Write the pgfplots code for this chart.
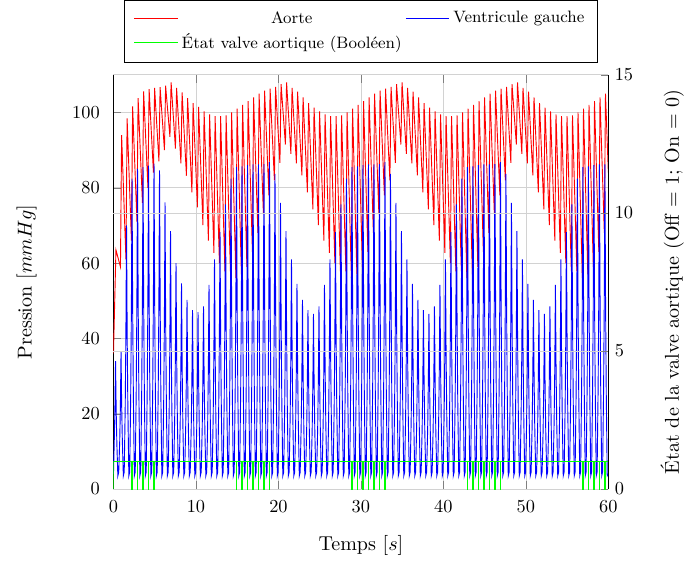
\documentclass[border=0pt]{standalone}
\usepackage{fontspec}
\usepackage{pgfplots}
\pgfplotsset{compat=1.18}
\begin{document}
\begin{tikzpicture}
\begin{axis}[
 width=270pt,height=226pt,scale only axis,
 xmin=0,xmax=60,ymin=0,ymax=110,
 xtick={0,10,...,60}, ytick={0,20,...,100},
 grid=major, major grid style={gray!35},
 axis y line*=left,
 xticklabel style={yshift=-3pt}, yticklabel style={xshift=-4pt},
 label style={scale=1.095},
 xlabel={Temps [$s$]}, ylabel={Pression [$mmHg$]},
 ylabel style={inner ysep=8.3pt},
 ylabel shift=6.7pt, xlabel shift=5pt,
]
\addplot[red, line width=0.5pt] coordinates {
(0,36)(0.3,63.5)(0.847,59)(0.987,94)
(1.513,61)(1.653,98.4)
(2.180,66)(2.320,101.6)
(2.847,71)(2.987,103.8)
(3.513,76)(3.653,105.6)
(4.180,80)(4.320,106.2)
(4.847,84)(4.987,106.5)
(5.513,87)(5.653,106.7)
(6.180,90)(6.320,107.1)
(6.847,93.5)(6.987,108)
(7.513,90.4)(7.653,106.5)
(8.180,86.5)(8.320,105.3)
(8.847,83.2)(8.987,103.8)
(9.513,78.8)(9.653,102.5)
(10.180,74.8)(10.320,101.5)
(10.847,70.1)(10.987,100.3)
(11.513,66)(11.653,99.5)
(12.180,62.7)(12.320,99)
(12.847,60)(12.987,99)
(13.513,57.8)(13.653,99.2)
(14.180,57.8)(14.320,100)
(14.847,56)(14.987,101)
(15.513,57)(15.653,102)
(16.180,59)(16.320,103)
(16.847,63)(16.987,104)
(17.513,68)(17.653,105)
(18.180,73)(18.320,105.8)
(18.847,78)(18.987,106.3)
(19.513,82)(19.653,106.8)
(20.180,86.6)(20.320,107.5)
(20.847,91.5)(20.987,108)
(21.513,89)(21.653,106.5)
(22.180,86.5)(22.320,105.5)
(22.847,83.3)(22.987,104)
(23.513,78.8)(23.653,102.5)
(24.180,74.3)(24.320,101.3)
(24.847,70.1)(24.987,100.3)
(25.513,66)(25.653,99.5)
(26.180,62.7)(26.320,99)
(26.847,60)(26.987,99)
(27.513,57.8)(27.653,99.2)
(28.180,57.8)(28.320,100)
(28.847,56)(28.987,101)
(29.513,57)(29.653,102)
(30.180,59)(30.320,103)
(30.847,63)(30.987,104)
(31.513,68)(31.653,105)
(32.180,73)(32.320,105.8)
(32.847,78)(32.987,106.3)
(33.513,82)(33.653,106.8)
(34.180,86.6)(34.320,107.5)
(34.847,91.5)(34.987,108)
(35.513,89)(35.653,106.5)
(36.180,86.5)(36.320,105.5)
(36.847,83.3)(36.987,104)
(37.513,78.8)(37.653,102.5)
(38.180,74.3)(38.320,101.3)
(38.847,70.1)(38.987,100.3)
(39.513,66)(39.653,99.5)
(40.180,62.7)(40.320,99)
(40.847,60)(40.987,99)
(41.513,57.8)(41.653,99.2)
(42.180,57.8)(42.320,100)
(42.847,56)(42.987,101)
(43.513,57)(43.653,102)
(44.180,59)(44.320,103)
(44.847,63)(44.987,104)
(45.513,68)(45.653,105)
(46.180,73)(46.320,105.8)
(46.847,78)(46.987,106.3)
(47.513,82)(47.653,106.8)
(48.180,86.6)(48.320,107.5)
(48.847,91.5)(48.987,108)
(49.513,89)(49.653,106.5)
(50.180,86.5)(50.320,105.5)
(50.847,83.3)(50.987,104)
(51.513,78.8)(51.653,102.5)
(52.180,74.3)(52.320,101.3)
(52.847,70.1)(52.987,100.3)
(53.513,66)(53.653,99.5)
(54.180,62.7)(54.320,99)
(54.847,60)(54.987,99)
(55.513,57.8)(55.653,99.2)
(56.180,57.8)(56.320,100)
(56.847,56)(56.987,101)
(57.513,57)(57.653,102)
(58.180,59)(58.320,103)
(58.847,63)(58.987,104)
(59.513,68)(59.653,105)
(60,84)
};
\addplot[blue, line width=0.5pt] coordinates {
(0,4)(0.090,12.1)(0.170,20.5)(0.250,34)(0.330,20.5)(0.410,12.1)(0.530,3.5)
(0.637,4.5)(0.757,12.7)(0.837,21.8)(0.917,36.4)(0.997,21.8)(1.077,12.7)(1.197,3.5)
(1.303,4.5)(1.423,21.8)(1.503,40.3)(1.583,70)(1.663,40.3)(1.743,21.8)(1.863,3.5)
(1.970,4.5)(2.090,25.2)(2.170,47.1)(2.250,82.4)(2.330,47.1)(2.410,25.2)(2.530,3.5)
(2.637,4.5)(2.757,25.9)(2.837,48.6)(2.917,85)(2.997,48.6)(3.077,25.9)(3.197,3.5)
(3.303,4.5)(3.423,26.0)(3.503,48.8)(3.583,85.5)(3.663,48.8)(3.743,26.0)(3.863,3.5)
(3.970,4.5)(4.090,26.1)(4.170,49.0)(4.250,85.9)(4.330,49.0)(4.410,26.1)(4.530,3.5)
(4.637,4.5)(4.757,26.2)(4.837,49.3)(4.917,86.4)(4.997,49.3)(5.077,26.2)(5.197,3.5)
(5.303,4.5)(5.423,25.8)(5.503,48.3)(5.583,84.6)(5.663,48.3)(5.743,25.8)(5.863,3.5)
(5.970,4.5)(6.090,23.5)(6.170,43.7)(6.250,76.1)(6.330,43.7)(6.410,23.5)(6.530,3.5)
(6.637,4.5)(6.757,21.4)(6.837,39.5)(6.917,68.5)(6.997,39.5)(7.077,21.4)(7.197,3.5)
(7.303,4.5)(7.423,19.1)(7.503,34.8)(7.583,60)(7.663,34.8)(7.743,19.1)(7.863,3.5)
(7.970,4.5)(8.090,17.7)(8.170,31.8)(8.250,54.6)(8.330,31.8)(8.410,17.7)(8.530,3.5)
(8.637,4.5)(8.757,16.5)(8.837,29.4)(8.917,50.2)(8.997,29.4)(9.077,16.5)(9.197,3.5)
(9.303,4.5)(9.423,15.7)(9.503,27.9)(9.583,47.5)(9.663,27.9)(9.743,15.7)(9.863,3.5)
(9.970,4.5)(10.090,15.6)(10.170,27.7)(10.250,47)(10.330,27.7)(10.410,15.6)(10.530,3.5)
(10.637,4.5)(10.757,16.0)(10.837,28.5)(10.917,48.5)(10.997,28.5)(11.077,16.0)(11.197,3.5)
(11.303,4.5)(11.423,17.6)(11.503,31.6)(11.583,54.2)(11.663,31.6)(11.743,17.6)(11.863,3.5)
(11.970,4.5)(12.090,19.4)(12.170,35.4)(12.250,61)(12.330,35.4)(12.410,19.4)(12.530,3.5)
(12.637,4.5)(12.757,21.3)(12.837,39.3)(12.917,68.2)(12.997,39.3)(13.077,21.3)(13.197,3.5)
(13.303,4.5)(13.423,23.3)(13.503,43.4)(13.583,75.6)(13.663,43.4)(13.743,23.3)(13.863,3.5)
(13.970,4.5)(14.090,25.2)(14.170,47.1)(14.250,82.4)(14.330,47.1)(14.410,25.2)(14.530,3.5)
(14.637,4.5)(14.757,26.0)(14.837,48.8)(14.917,85.5)(14.997,48.8)(15.077,26.0)(15.197,3.5)
(15.303,4.5)(15.423,26.1)(15.503,48.9)(15.583,85.7)(15.663,48.9)(15.743,26.1)(15.863,3.5)
(15.970,4.5)(16.090,26.1)(16.170,49.1)(16.250,86)(16.330,49.1)(16.410,26.1)(16.530,3.5)
(16.637,4.5)(16.757,26.2)(16.837,49.2)(16.917,86.2)(16.997,49.2)(17.077,26.2)(17.197,3.5)
(17.303,4.5)(17.423,26.2)(17.503,49.2)(17.583,86.2)(17.663,49.2)(17.743,26.2)(17.863,3.5)
(17.970,4.5)(18.090,26.2)(18.170,49.3)(18.250,86.3)(18.330,49.3)(18.410,26.2)(18.530,3.5)
(18.637,4.5)(18.757,26.4)(18.837,49.5)(18.917,86.8)(18.997,49.5)(19.077,26.4)(19.197,3.5)
(19.303,4.5)(19.423,25.5)(19.503,47.8)(19.583,83.7)(19.663,47.8)(19.743,25.5)(19.863,3.5)
(19.970,4.5)(20.090,23.4)(20.170,43.6)(20.250,76)(20.330,43.6)(20.410,23.4)(20.530,3.5)
(20.637,4.5)(20.757,21.4)(20.837,39.5)(20.917,68.5)(20.997,39.5)(21.077,21.4)(21.197,3.5)
(21.303,4.5)(21.423,19.4)(21.503,35.4)(21.583,61)(21.663,35.4)(21.743,19.4)(21.863,3.5)
(21.970,4.5)(22.090,17.6)(22.170,31.8)(22.250,54.5)(22.330,31.8)(22.410,17.6)(22.530,3.5)
(22.637,4.5)(22.757,16.5)(22.837,29.4)(22.917,50.2)(22.997,29.4)(23.077,16.5)(23.197,3.5)
(23.303,4.5)(23.423,15.7)(23.503,27.9)(23.583,47.5)(23.663,27.9)(23.743,15.7)(23.863,3.5)
(23.970,4.5)(24.090,15.5)(24.170,27.4)(24.250,46.5)(24.330,27.4)(24.410,15.5)(24.530,3.5)
(24.637,4.5)(24.757,16.0)(24.837,28.5)(24.917,48.5)(24.997,28.5)(25.077,16.0)(25.197,3.5)
(25.303,4.5)(25.423,17.6)(25.503,31.6)(25.583,54.2)(25.663,31.6)(25.743,17.6)(25.863,3.5)
(25.970,4.5)(26.090,19.4)(26.170,35.4)(26.250,61)(26.330,35.4)(26.410,19.4)(26.530,3.5)
(26.637,4.5)(26.757,21.3)(26.837,39.3)(26.917,68.2)(26.997,39.3)(27.077,21.3)(27.197,3.5)
(27.303,4.5)(27.423,23.3)(27.503,43.4)(27.583,75.6)(27.663,43.4)(27.743,23.3)(27.863,3.5)
(27.970,4.5)(28.090,25.2)(28.170,47.1)(28.250,82.4)(28.330,47.1)(28.410,25.2)(28.530,3.5)
(28.637,4.5)(28.757,26.0)(28.837,48.8)(28.917,85.5)(28.997,48.8)(29.077,26.0)(29.197,3.5)
(29.303,4.5)(29.423,26.1)(29.503,48.9)(29.583,85.7)(29.663,48.9)(29.743,26.1)(29.863,3.5)
(29.970,4.5)(30.090,26.1)(30.170,49.1)(30.250,86)(30.330,49.1)(30.410,26.1)(30.530,3.5)
(30.637,4.5)(30.757,26.2)(30.837,49.2)(30.917,86.2)(30.997,49.2)(31.077,26.2)(31.197,3.5)
(31.303,4.5)(31.423,26.2)(31.503,49.2)(31.583,86.2)(31.663,49.2)(31.743,26.2)(31.863,3.5)
(31.970,4.5)(32.090,26.2)(32.170,49.3)(32.250,86.3)(32.330,49.3)(32.410,26.2)(32.530,3.5)
(32.637,4.5)(32.757,26.4)(32.837,49.5)(32.917,86.8)(32.997,49.5)(33.077,26.4)(33.197,3.5)
(33.303,4.5)(33.423,25.5)(33.503,47.8)(33.583,83.7)(33.663,47.8)(33.743,25.5)(33.863,3.5)
(33.970,4.5)(34.090,23.4)(34.170,43.6)(34.250,76)(34.330,43.6)(34.410,23.4)(34.530,3.5)
(34.637,4.5)(34.757,21.4)(34.837,39.5)(34.917,68.5)(34.997,39.5)(35.077,21.4)(35.197,3.5)
(35.303,4.5)(35.423,19.4)(35.503,35.4)(35.583,61)(35.663,35.4)(35.743,19.4)(35.863,3.5)
(35.970,4.5)(36.090,17.6)(36.170,31.8)(36.250,54.5)(36.330,31.8)(36.410,17.6)(36.530,3.5)
(36.637,4.5)(36.757,16.5)(36.837,29.4)(36.917,50.2)(36.997,29.4)(37.077,16.5)(37.197,3.5)
(37.303,4.5)(37.423,15.7)(37.503,27.9)(37.583,47.5)(37.663,27.9)(37.743,15.7)(37.863,3.5)
(37.970,4.5)(38.090,15.5)(38.170,27.4)(38.250,46.5)(38.330,27.4)(38.410,15.5)(38.530,3.5)
(38.637,4.5)(38.757,16.0)(38.837,28.5)(38.917,48.5)(38.997,28.5)(39.077,16.0)(39.197,3.5)
(39.303,4.5)(39.423,17.6)(39.503,31.6)(39.583,54.2)(39.663,31.6)(39.743,17.6)(39.863,3.5)
(39.970,4.5)(40.090,19.4)(40.170,35.4)(40.250,61)(40.330,35.4)(40.410,19.4)(40.530,3.5)
(40.637,4.5)(40.757,21.3)(40.837,39.3)(40.917,68.2)(40.997,39.3)(41.077,21.3)(41.197,3.5)
(41.303,4.5)(41.423,23.3)(41.503,43.4)(41.583,75.6)(41.663,43.4)(41.743,23.3)(41.863,3.5)
(41.970,4.5)(42.090,25.2)(42.170,47.1)(42.250,82.4)(42.330,47.1)(42.410,25.2)(42.530,3.5)
(42.637,4.5)(42.757,26.0)(42.837,48.8)(42.917,85.5)(42.997,48.8)(43.077,26.0)(43.197,3.5)
(43.303,4.5)(43.423,26.1)(43.503,48.9)(43.583,85.7)(43.663,48.9)(43.743,26.1)(43.863,3.5)
(43.970,4.5)(44.090,26.1)(44.170,49.1)(44.250,86)(44.330,49.1)(44.410,26.1)(44.530,3.5)
(44.637,4.5)(44.757,26.2)(44.837,49.2)(44.917,86.2)(44.997,49.2)(45.077,26.2)(45.197,3.5)
(45.303,4.5)(45.423,26.2)(45.503,49.2)(45.583,86.2)(45.663,49.2)(45.743,26.2)(45.863,3.5)
(45.970,4.5)(46.090,26.2)(46.170,49.3)(46.250,86.3)(46.330,49.3)(46.410,26.2)(46.530,3.5)
(46.637,4.5)(46.757,26.4)(46.837,49.5)(46.917,86.8)(46.997,49.5)(47.077,26.4)(47.197,3.5)
(47.303,4.5)(47.423,25.5)(47.503,47.8)(47.583,83.7)(47.663,47.8)(47.743,25.5)(47.863,3.5)
(47.970,4.5)(48.090,23.4)(48.170,43.6)(48.250,76)(48.330,43.6)(48.410,23.4)(48.530,3.5)
(48.637,4.5)(48.757,21.4)(48.837,39.5)(48.917,68.5)(48.997,39.5)(49.077,21.4)(49.197,3.5)
(49.303,4.5)(49.423,19.4)(49.503,35.4)(49.583,61)(49.663,35.4)(49.743,19.4)(49.863,3.5)
(49.970,4.5)(50.090,17.6)(50.170,31.8)(50.250,54.5)(50.330,31.8)(50.410,17.6)(50.530,3.5)
(50.637,4.5)(50.757,16.5)(50.837,29.4)(50.917,50.2)(50.997,29.4)(51.077,16.5)(51.197,3.5)
(51.303,4.5)(51.423,15.7)(51.503,27.9)(51.583,47.5)(51.663,27.9)(51.743,15.7)(51.863,3.5)
(51.970,4.5)(52.090,15.5)(52.170,27.4)(52.250,46.5)(52.330,27.4)(52.410,15.5)(52.530,3.5)
(52.637,4.5)(52.757,16.0)(52.837,28.5)(52.917,48.5)(52.997,28.5)(53.077,16.0)(53.197,3.5)
(53.303,4.5)(53.423,17.6)(53.503,31.6)(53.583,54.2)(53.663,31.6)(53.743,17.6)(53.863,3.5)
(53.970,4.5)(54.090,19.4)(54.170,35.4)(54.250,61)(54.330,35.4)(54.410,19.4)(54.530,3.5)
(54.637,4.5)(54.757,21.3)(54.837,39.3)(54.917,68.2)(54.997,39.3)(55.077,21.3)(55.197,3.5)
(55.303,4.5)(55.423,23.3)(55.503,43.4)(55.583,75.6)(55.663,43.4)(55.743,23.3)(55.863,3.5)
(55.970,4.5)(56.090,25.2)(56.170,47.1)(56.250,82.4)(56.330,47.1)(56.410,25.2)(56.530,3.5)
(56.637,4.5)(56.757,26.0)(56.837,48.8)(56.917,85.5)(56.997,48.8)(57.077,26.0)(57.197,3.5)
(57.303,4.5)(57.423,26.1)(57.503,48.9)(57.583,85.7)(57.663,48.9)(57.743,26.1)(57.863,3.5)
(57.970,4.5)(58.090,26.1)(58.170,49.1)(58.250,86)(58.330,49.1)(58.410,26.1)(58.530,3.5)
(58.637,4.5)(58.757,26.2)(58.837,49.2)(58.917,86.2)(58.997,49.2)(59.077,26.2)(59.197,3.5)
(59.303,4.5)(59.423,26.2)(59.503,49.2)(59.583,86.2)(59.663,49.2)(59.743,26.2)(59.863,3.5)
(60,4)
};
\end{axis}
\begin{axis}[
 width=270pt,height=226pt,scale only axis,
 xmin=0,xmax=60,ymin=0,ymax=15, ytick={0,5,10,15},
 axis y line*=right, axis x line=none,
 ymajorgrids, major grid style={gray!35},
 label style={scale=1.095},
 ylabel={État de la valve aortique (Off = 1; On = 0)},
 ylabel style={inner ysep=0pt},
 ylabel shift=11.5pt,
 legend columns=2, legend cell align=center,
 legend style={at={(0.5,1.03)},anchor=south, draw=black, fill=white,
   inner xsep=5pt, inner ysep=4pt, font=\small},
 legend image code/.code={\draw[#1] (0cm,0cm) -- (0.83cm,0cm);},
]
\addlegendimage{red, line width=0.5pt}
\addlegendentry{Aorte}
\addlegendimage{blue, line width=0.5pt}
\addlegendentry{Ventricule gauche}
\addlegendimage{green, line width=0.5pt}
\addlegendentry{État valve aortique (Booléen)}
\addplot[green, line width=0.5pt, forget plot] coordinates {
(0,0)(0,1)
(2.200,1)(2.200,0)(2.300,0)(2.300,1)
(2.867,1)(2.867,0)(2.967,0)(2.967,1)
(3.533,1)(3.533,0)(3.633,0)(3.633,1)
(4.200,1)(4.200,0)(4.300,0)(4.300,1)
(4.867,1)(4.867,0)(4.967,0)(4.967,1)
(14.867,1)(14.867,0)(14.967,0)(14.967,1)
(15.533,1)(15.533,0)(15.633,0)(15.633,1)
(16.200,1)(16.200,0)(16.300,0)(16.300,1)
(16.867,1)(16.867,0)(16.967,0)(16.967,1)
(17.533,1)(17.533,0)(17.633,0)(17.633,1)
(18.200,1)(18.200,0)(18.300,0)(18.300,1)
(18.867,1)(18.867,0)(18.967,0)(18.967,1)
(28.867,1)(28.867,0)(28.967,0)(28.967,1)
(29.533,1)(29.533,0)(29.633,0)(29.633,1)
(30.200,1)(30.200,0)(30.300,0)(30.300,1)
(30.867,1)(30.867,0)(30.967,0)(30.967,1)
(31.533,1)(31.533,0)(31.633,0)(31.633,1)
(32.200,1)(32.200,0)(32.300,0)(32.300,1)
(32.867,1)(32.867,0)(32.967,0)(32.967,1)
(42.867,1)(42.867,0)(42.967,0)(42.967,1)
(43.533,1)(43.533,0)(43.633,0)(43.633,1)
(44.200,1)(44.200,0)(44.300,0)(44.300,1)
(44.867,1)(44.867,0)(44.967,0)(44.967,1)
(45.533,1)(45.533,0)(45.633,0)(45.633,1)
(46.200,1)(46.200,0)(46.300,0)(46.300,1)
(46.867,1)(46.867,0)(46.967,0)(46.967,1)
(56.867,1)(56.867,0)(56.967,0)(56.967,1)
(57.533,1)(57.533,0)(57.633,0)(57.633,1)
(58.200,1)(58.200,0)(58.300,0)(58.300,1)
(58.867,1)(58.867,0)(58.967,0)(58.967,1)
(59.533,1)(59.533,0)(59.633,0)(59.633,1)
(60,1)
};
\end{axis}
\end{tikzpicture}
\end{document}
